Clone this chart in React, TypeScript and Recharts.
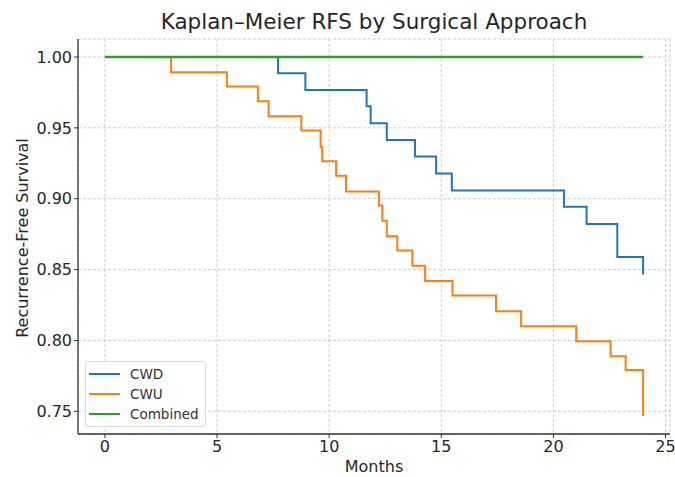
import React from "react";
import { LineChart, Line, XAxis, YAxis, CartesianGrid } from "recharts";

const cwdTimes = [0, 7.72, 8.94, 11.67, 11.85, 12.57, 13.83, 14.77, 15.47, 20.47, 21.48, 22.85, 24.0];
const cwdSurv = [1.0, 0.9886, 0.9768, 0.9653, 0.9533, 0.9415, 0.9298, 0.9178, 0.9058, 0.8944, 0.8822, 0.8589, 0.8465];

const cwuTimes = [0, 2.95, 5.44, 6.82, 7.3, 8.76, 9.62, 9.69, 10.31, 10.75, 12.22, 12.37, 12.57, 13.04, 13.71, 14.28, 15.5, 17.44, 18.56, 21.02, 22.55, 23.22, 24.0];
const cwuSurv = [1.0, 0.9892, 0.9791, 0.9688, 0.9582, 0.9481, 0.9364, 0.9265, 0.9162, 0.9051, 0.8953, 0.8845, 0.8735, 0.8634, 0.8528, 0.842, 0.8317, 0.8206, 0.8101, 0.7995, 0.7889, 0.7791, 0.7467];

const combinedTimes = [0, 24.0];
const combinedSurv = [1.0, 1.0];

const xTicks = [0, 5, 10, 15, 20, 25];
const yTicks = [0.75, 0.8, 0.85, 0.9, 0.95, 1.0];

const seriesNames = ["CWD", "CWU", "Combined"];
const seriesColors = ["#1f77b4", "#ff7f0e", "#2ca02c"];

const toRows = (ts: number[], ss: number[]) => ts.map((t, i) => ({ t, s: ss[i] }));

const series = [
  { name: seriesNames[0], color: seriesColors[0], data: toRows(cwdTimes, cwdSurv) },
  { name: seriesNames[1], color: seriesColors[1], data: toRows(cwuTimes, cwuSurv) },
  { name: seriesNames[2], color: seriesColors[2], data: toRows(combinedTimes, combinedSurv) },
];

const FONT = "'DejaVu Sans', sans-serif";
const AXIS = "#333333";
const TEXT = "#262626";

function LegendBox() {
  return (
    <div
      style={{
        position: "absolute",
        left: 85,
        top: 361,
        width: 121,
        height: 66,
        border: "1px solid #d9d9d9",
        borderRadius: 3,
        background: "rgba(255,255,255,0.85)",
        padding: "2px 0 0 3px",
        fontFamily: FONT,
        fontSize: 13.5,
        color: "#333",
        boxSizing: "border-box",
      }}
    >
      {series.map((s) => (
        <div key={s.name} style={{ display: "flex", alignItems: "center", height: 20 }}>
          <div style={{ width: 31, height: 2, background: s.color, marginRight: 10 }} />
          <span>{s.name}</span>
        </div>
      ))}
    </div>
  );
}

export default function App() {
  return (
    <div
      style={{
        position: "absolute",
        left: 0,
        top: 0,
        width: 675,
        height: 477,
        background: "#fff",
        fontFamily: FONT,
      }}
    >
      <LineChart
        width={675}
        height={477}
        margin={{ top: 39, right: 5, left: 10, bottom: 13 }}
        style={{ position: "absolute", left: 0, top: 0 }}
      >
        <CartesianGrid stroke="#cfcfcf" strokeDasharray="3 2" />
        <XAxis
          type="number"
          dataKey="t"
          domain={[-1.2, 25.2]}
          ticks={xTicks}
          allowDataOverflow
          height={30}
          tickSize={4}
          tickMargin={3}
          axisLine={{ stroke: AXIS, strokeWidth: 1.3 }}
          tickLine={{ stroke: AXIS }}
          tick={{ fill: TEXT, fontSize: 16, fontFamily: FONT }}
        />
        <YAxis
          type="number"
          dataKey="s"
          domain={[0.734, 1.0127]}
          ticks={yTicks}
          allowDataOverflow
          width={68}
          tickSize={4}
          tickMargin={2}
          tickFormatter={(v: number) => v.toFixed(2)}
          axisLine={{ stroke: AXIS, strokeWidth: 1.3 }}
          tickLine={{ stroke: AXIS }}
          tick={{ fill: TEXT, fontSize: 16, fontFamily: FONT }}
        />
        {series.map((s, i) => (
          <Line
            key={s.name}
            data={s.data}
            dataKey="s"
            name={s.name}
            type="stepAfter"
            stroke={s.color}
            strokeWidth={i === 2 ? 2.3 : 2}
            dot={false}
            activeDot={false}
            isAnimationActive={false}
          />
        ))}
      </LineChart>
      <div
        style={{
          position: "absolute",
          left: 0,
          width: 748,
          top: 9,
          textAlign: "center",
          fontSize: 21.5,
          color: TEXT,
          whiteSpace: "nowrap",
        }}
      >
        Kaplan–Meier RFS by Surgical Approach
      </div>
      <div
        style={{
          position: "absolute",
          left: 22,
          top: 238,
          transform: "translate(-50%, -50%) rotate(-90deg)",
          fontSize: 16,
          color: TEXT,
          whiteSpace: "nowrap",
        }}
      >
        Recurrence-Free Survival
      </div>
      <div
        style={{
          position: "absolute",
          left: 0,
          width: 748,
          top: 457,
          textAlign: "center",
          fontSize: 16,
          color: TEXT,
        }}
      >
        Months
      </div>
      <LegendBox />
    </div>
  );
}
